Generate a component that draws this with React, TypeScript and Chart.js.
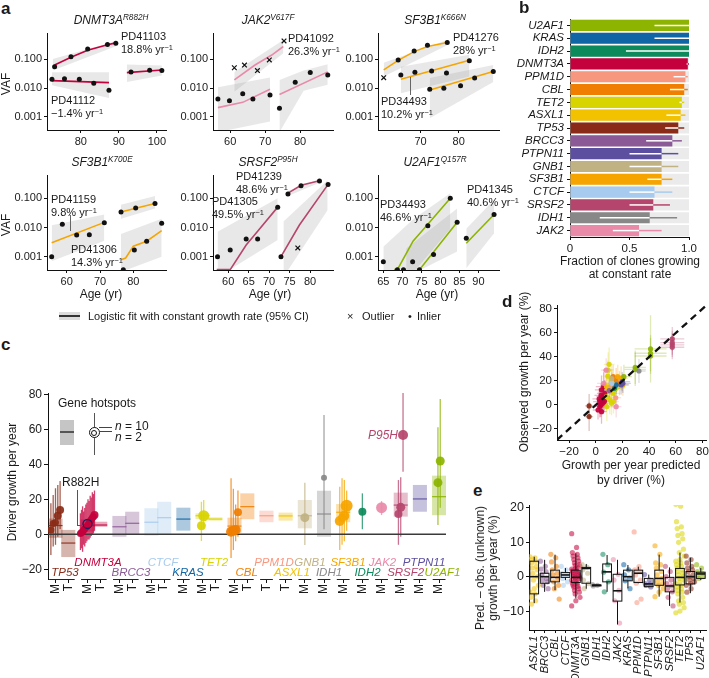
import React, { useEffect, useRef } from "react";
import { Chart, registerables } from "chart.js";

Chart.register(...registerables);

const FONT = "'Liberation Sans', Arial, Helvetica, sans-serif";
Chart.defaults.font.family = FONT;
Chart.defaults.color = "#1a1a1a";

const GENE_COLOR: Record<string, string> = {
  U2AF1: "#8cb400", KRAS: "#1065a5", IDH2: "#0d8a5b", DNMT3A: "#c4003d", PPM1D: "#f8977f",
  CBL: "#f07e00", TET2: "#d8d400", ASXL1: "#f2c100", TP53: "#8a2b17", BRCC3: "#8b5a96",
  PTPN11: "#5d4f9f", GNB1: "#c1b283", SF3B1: "#f6a500", CTCF: "#a6cbee", SRSF2: "#b6456d",
  IDH1: "#888888", JAK2: "#e98aa9",
};

// ---------------- Panel a data (age in years, VAF) ----------------
const vafTicks = [0.001, 0.01, 0.1];

// DNMT3A R882H
const a1XRange = [71.1, 102.4];
const a1Ticks = [80, 90, 100];
const a1InAge = [73.1, 77.4, 81.8, 87.0, 89.2, 72.4, 75.7, 79.6, 83.4, 87.4, 93.2, 98.1, 101.3];
const a1InVaf = [0.054, 0.12, 0.22, 0.32, 0.35, 0.02, 0.021, 0.02, 0.0145, 0.0083, 0.036, 0.041, 0.04];
const a1OutAge: number[] = [];
const a1OutVaf: number[] = [];
const a1FitAge = [[73.1, 77.4, 81.8, 87.0, 89.2], [72.4, 87.4], [92.1, 101.3]];
const a1FitVaf = [[0.062, 0.115, 0.2, 0.31, 0.36], [0.018, 0.0153], [0.034, 0.042]];
const a1BandAge = [[72.6, 89.4], [72.4, 87.4], [92.1, 101.3]];
const a1BandLo = [[0.04, 0.28], [0.0125, 0.0045], [0.016, 0.027]];
const a1BandHi = [[0.1, 0.42], [0.035, 0.035], [0.065, 0.06]];

// JAK2 V617F
const a2XRange = [55.1, 89.4];
const a2Ticks = [60, 70, 80];
const a2InAge = [56.5, 59.8, 63.6, 66.5, 71.4, 74.1, 78.6, 82.9, 87.9];
const a2InVaf = [0.0042, 0.0036, 0.0063, 0.0042, 0.0057, 0.002, 0.0158, 0.034, 0.028];
const a2OutAge = [61.2, 64.1, 67.8, 71.2, 75.4];
const a2OutVaf = [0.05, 0.062, 0.04, 0.093, 0.42];
const a2FitAge = [[61.2, 67.1, 71.9, 75.2], [56.5, 63.6, 71.4], [74.1, 87.9]];
const a2FitVaf = [[0.019, 0.062, 0.137, 0.27], [0.0021, 0.0032, 0.0091], [0.006, 0.036]];
const a2BandAge = [[61.2, 75.2], [56.5, 71.4], [74.1, 81, 87.9]];
const a2BandLo = [[0.0074, 0.157], [0.0003, 0.0007], [0.0003, 0.008, 0.013]];
const a2BandHi = [[0.036, 0.45], [0.0106, 0.023], [0.019, 0.04, 0.066]];

// SF3B1 K666N
const a3XRange = [58.8, 90.6];
const a3Ticks = [70, 80];
const a3InAge = [64.1, 68.3, 71.8, 77.0, 64.8, 68.5, 72.9, 76.8, 82.8, 72.4, 76.1, 80.5, 84.2, 89.1];
const a3InVaf = [0.092, 0.19, 0.3, 0.37, 0.028, 0.035, 0.039, 0.033, 0.087, 0.009, 0.0098, 0.012, 0.022, 0.037];
const a3OutAge = [60.3];
const a3OutVaf = [0.0227];
const a3FitAge = [[60.3, 64.1, 68.3, 71.8, 77.0], [64.8, 82.8], [72.4, 89.1]];
const a3FitVaf = [[0.042, 0.09, 0.18, 0.27, 0.37], [0.02, 0.09], [0.0085, 0.037]];
const a3BandAge = [[60.3, 77.0], [64.8, 82.8], [72.4, 89.1]];
const a3BandLo = [[0.025, 0.3], [0.0066, 0.025], [0.0009, 0.016]];
const a3BandHi = [[0.075, 0.45], [0.054, 0.14], [0.022, 0.062]];

// SF3B1 K700E
const b1XRange = [54.1, 89.8];
const b1Ticks = [60, 70, 80];
const b1InAge = [55.5, 58.7, 63.0, 66.8, 71.3, 76.3, 80.7, 86.5, 77.0, 80.3, 84.0, 88.5];
const b1InVaf = [0.001, 0.0129, 0.0055, 0.0057, 0.0146, 0.034, 0.047, 0.067, 0.00036, 0.0017, 0.0034, 0.0139];
const b1OutAge: number[] = [];
const b1OutVaf: number[] = [];
const b1FitAge = [[55.5, 71.3], [76.3, 80.7, 86.5], [76.3, 77.7, 80, 84, 88.5]];
const b1FitVaf = [[0.003, 0.015], [0.034, 0.046, 0.066], [0.00078, 0.0009, 0.0023, 0.0034, 0.0078]];
const b1BandAge = [[55.5, 71.3], [76.3, 86.5], [76.3, 88.5]];
const b1BandLo = [[0.0007, 0.0035], [0.02, 0.045], [0.0003, 0.001]];
const b1BandHi = [[0.012, 0.028], [0.06, 0.12], [0.006, 0.02]];

// SRSF2 P95H
const b2XRange = [56.3, 85.6];
const b2Ticks = [60, 65, 70, 75, 80];
const b2InAge = [57.4, 60.5, 64.4, 67.2, 72.1, 74.6, 77.8, 82.3, 84.4, 72.9];
const b2InVaf = [0.001, 0.0017, 0.004, 0.004, 0.049, 0.14, 0.27, 0.39, 0.3, 0.001];
const b2OutAge = [77.0];
const b2OutVaf = [0.002];
const b2FitAge = [[57.2, 60.5, 64.4, 67.2, 72.1], [74.6, 77.8, 82.3], [72.9, 77.4, 84.4]];
const b2FitVaf = [[0.00036, 0.00036, 0.0025, 0.0075, 0.05], [0.15, 0.28, 0.4], [0.001, 0.0122, 0.3]];
const b2BandAge = [[57.4, 72.1], [73.5, 84.3], [74.6, 82.3]];
const b2BandLo = [[0.0002, 0.0037], [0.0002, 0.04], [0.12, 0.34]];
const b2BandHi = [[0.0072, 0.1], [0.016, 0.42], [0.18, 0.46]];

// U2AF1 Q157R
const b3XRange = [63.6, 95.4];
const b3Ticks = [65, 70, 75, 80, 85, 90];
const b3InAge = [65.0, 68.7, 70.3, 72.7, 74.5, 76.7, 78.2, 82.6, 84.4, 86.8, 94.1];
const b3InVaf = [0.00067, 0.00036, 0.00036, 0.00067, 0.00036, 0.0115, 0.0012, 0.1, 0.0151, 0.0043, 0.028];
const b3OutAge: number[] = [];
const b3OutVaf: number[] = [];
const b3FitAge = [[67.8, 68.7, 72.8, 76.7, 82.6], [73.8, 74.5, 84.4], [86.8, 94.1]];
const b3FitVaf = [[0.00036, 0.00036, 0.0034, 0.013, 0.1], [0.00036, 0.00036, 0.0151], [0.0029, 0.028]];
const b3BandAge = [[65, 73, 82.6], [71, 84.4], [86.8, 94.1]];
const b3BandLo = [[0.0002, 0.0003, 0.009], [0.0002, 0.0015], [0.0004, 0.0063]];
const b3BandHi = [[0.0022, 0.02, 0.15], [0.0019, 0.045], [0.009, 0.09]];

// ---------------- Panel b data ----------------
const bGenes = ["U2AF1", "KRAS", "IDH2", "DNMT3A", "PPM1D", "CBL", "TET2", "ASXL1", "TP53", "BRCC3", "PTPN11", "GNB1", "SF3B1", "CTCF", "SRSF2", "IDH1", "JAK2"];
const bFrac = [1, 1, 1, 0.99, 0.97, 0.96, 0.94, 0.93, 0.91, 0.86, 0.77, 0.77, 0.77, 0.71, 0.7, 0.67, 0.58];
const bLo = [0.71, 0.71, 0.47, 0.98, 0.87, 0.84, 0.92, 0.81, 0.8, 0.64, 0.5, 0.5, 0.65, 0.5, 0.5, 0.25, 0.36];
const bHi = [1, 1, 1, 1, 0.99, 0.99, 0.96, 0.97, 0.96, 0.94, 0.91, 0.91, 0.86, 0.86, 0.84, 0.9, 0.77];
const bTicks = [0, 0.5, 1];

// ---------------- Panel c data ----------------
const cGenes = ["TP53", "DNMT3A", "BRCC3", "CTCF", "KRAS", "TET2", "CBL", "PPM1D", "ASXL1", "GNB1", "IDH1", "SF3B1", "IDH2", "JAK2", "SRSF2", "PTPN11", "U2AF1"];
const cKinds = ["MT", "MT", "MT", "MT", "M", "MT", "MT", "T", "T", "M", "M", "M", "M", "M", "M", "M", "M"];
// per slot (order: gene, then M/T)
const cBoxLo = [-2, -13, 1.5, 4.3, -1.4, 0.2, -0.8, 0.2, 2.1, 8.7, 7.8, 0.9, 8.6, 6.9, 7.8, 3.4, -1.4, 6.9, null, null, 10.1, 12.9, 10.9];
const cBoxHi = [9, 2.5, 8.5, 7.2, 10.5, 12.9, 14.9, 18.6, 15.2, 12, 9.7, 9.5, 23.4, 13.5, 12.4, 19.6, 24.9, 17.3, null, null, 23.8, 28.2, 33.5];
const cBoxMed = [5, -5, 5, 5.3, 4.3, 6.3, 6.9, 9.5, 8.7, 10.6, 8.7, 4.7, 15.8, 10.6, 10.5, 10.6, 11.6, 12.6, null, null, 16.7, 20.2, 21.5];
const cPtSlot = [0, 0, 0, 0, 0, 2, 2, 2, 2, 2, 2, 2, 2, 2, 2, 2, 2, 2, 2, 9, 9, 11, 11, 11, 11, 15, 16, 17, 17, 17, 17, 18, 19, 20, 20, 20, 22, 22];
const cPtVal = [2.5, 6.2, 6.8, 10.6, 13.9, 0.5, 1, 1.5, 2.5, 3, 4, 4.5, 5.5, 6.5, 7.5, 8.5, 9.5, 10, 11, 4.9, 10.6, 1.5, 2, 2.5, 12.6, 9.5, 32.3, 7.6, 9.5, 10.6, 16.3, 12.9, 15.2, 11.6, 15.4, 56.7, 29.5, 41.9];
const cPtLo = [-11.8, -7, -6, -1.4, 3, -9, -8, -10, -6, -7, -5, -4, -3, -3, -2, -1, 0, 0.5, 2, -3.8, 2.9, -13.6, -9, -4, -1.4, -6.1, 2.9, -9, -6, -4, 2, 2.9, 11, -6, -1.4, 35.8, 5.3, 15.2];
const cPtHi = [17.7, 22.5, 26.3, 28.2, 30.5, 12, 14, 16, 13, 15, 17, 18, 20, 19, 22, 21, 24, 23, 25, 18.6, 19.6, 32, 26, 17, 25, 29.5, 68.2, 27.2, 32, 31, 25, 23.4, 19, 31, 32.6, 80.9, 61.1, 77.3];
const cPtSize = [3.5, 3.5, 3.5, 4, 4, 3.5, 3.5, 3.5, 3.5, 3.5, 3.5, 3.5, 3.5, 3.5, 3.5, 3.5, 3.5, 3.5, 4, 4.5, 5.5, 5, 5, 5, 4, 4.5, 3, 5, 4, 5, 6, 4, 5.5, 4, 4.5, 5, 4.5, 4.5];
const cHotspotSlot = 2;
const cHotspotVal = [5.9];
const cYTicks = [-20, 0, 20, 40, 60, 80];

// ---------------- Panel d data ----------------
const dGene = ["TP53", "TP53",
  "DNMT3A", "DNMT3A", "DNMT3A", "DNMT3A", "DNMT3A", "DNMT3A", "DNMT3A", "DNMT3A", "DNMT3A", "DNMT3A", "DNMT3A", "DNMT3A", "DNMT3A", "DNMT3A",
  "TET2", "TET2", "TET2", "TET2", "TET2", "TET2", "TET2", "TET2", "TET2", "TET2", "TET2", "TET2", "TET2",
  "CBL", "CBL", "CBL", "SF3B1", "SF3B1", "SF3B1", "SF3B1", "ASXL1", "ASXL1", "ASXL1", "PPM1D", "PPM1D",
  "JAK2", "JAK2", "JAK2", "PTPN11", "PTPN11", "PTPN11", "IDH2", "KRAS", "CTCF",
  "U2AF1", "U2AF1", "U2AF1", "U2AF1", "U2AF1", "U2AF1", "IDH1", "SRSF2", "SRSF2", "SRSF2", "SRSF2", "GNB1", "BRCC3"];
const dPred = [-5, -5, 1.7, 3.8, 5.5, 4.3, 5.5, 3, 6.8, 5, 4.3, 6, 3, 2.5, 6.5, 4, 10.5, 9.3, 11.8, 10.5, 13, 8.3, 10, 11.8, 8, 13.3, 15.3, 9, 12, 15.3, 17.8, 13, 16.5, 19, 14, 20.3, 8, 10.5, 12, 11.5, 15, 7.8, 15.3, 6, 19, 19.8, 20.3, 14, 15.3, 12, 21.1, 29.6, 29.6, 41.1, 41.1, 41.1, 32.4, 57.4, 57.4, 57.4, 57.4, 12, 10];
const dObs = [-0.8, -9.7, -4.2, 0, 7, 12.5, 1.4, 2.8, 9.7, 4.2, -5.6, 15.3, -1.4, 5, 3, 8, 4.2, 29, 20.8, 15.3, 9.7, -1.4, 33.9, 1.4, 7, 2.8, 13.9, 24, 11, 20.8, 18, 23.6, 23.6, 22.2, 15.3, 16.7, 15.3, 11.1, 18, 16, 6, 29, -1.4, 18, 16.7, 19.4, 18, 13.9, 16.7, 18, 23.6, 29.7, 31.4, 46.7, 43.1, 40.8, 28.3, 55, 51.9, 50, 48.1, 22, 12];
const dPredErr = [3, 3, 4, 5, 5, 5, 4, 5, 6, 4, 4, 6, 5, 5, 4, 5, 4, 4, 4, 4, 5, 4, 4, 4, 4, 4, 5, 4, 4, 5, 5, 5, 5, 5, 5, 4, 4, 4, 4, 4, 4, 4, 4, 5, 6, 6, 6, 4, 4, 4, 6, 8, 8, 12, 12, 12, 5, 9, 9, 9, 9, 4, 4];
const dObsErr = [10, 12, 8, 10, 10, 12, 9, 9, 11, 10, 10, 12, 9, 9, 9, 10, 12, 15, 12, 12, 12, 12, 14, 10, 12, 10, 12, 13, 10, 10, 10, 10, 10, 10, 10, 9, 10, 9, 9, 9, 9, 10, 9, 12, 8, 8, 8, 8, 8, 9, 10, 14, 14, 28, 15, 15, 10, 10, 10, 10, 10, 8, 8];
const dTicks = [-20, 0, 20, 40, 60, 80];

// ---------------- Panel e data ----------------
const eGenes = ["ASXL1", "BRCC3", "CBL", "CTCF", "DNMT3A", "GNB1", "IDH1", "IDH2", "JAK2", "KRAS", "PPM1D", "PTPN11", "SF3B1", "SRSF2", "TET2", "TP53", "U2AF1"];
const eVals = [
  [5.8, 5.5, 5, 4.5, 4, 3, 2.5, 2, 1, 0, -1, -2.5, -3.5, -4.5, -5, -6, -7, -8],
  [4.5, 3, 2.2, 1.5, 0.5, -0.5, -1, -1.5, -2.5, -3.5],
  [6.5, 5.5, 4.3, 3, 2, 1, 0.5, -0.5, -1.5, -2.5, -3.5, -6.5],
  [3, 2, 1, 0.5, -0.5, -1.5, -2.5],
  [12.5, 8.5, 7, 6.5, 6, 5.5, 5, 4.5, 4, 3.5, 3.2, 3, 2.5, 2.2, 2, 1.7, 1.5, 1.2, 1, 0.7, 0.5, 0.2, 0, -0.3, -0.5, -0.8, -1, -1.5, -1.8, -2, -2.5, -2.8, -3, -3.5, -4, -4.5, -5, -6, -7, -8.5],
  [3.5, 2.8, 2, 1, -1, -2, -3.5],
  [-2.3, -2.5, -2.7],
  [6.5, 3.5, 1.3, -1.5, -4.4],
  [5, 0.7, -1, -4, -7, -13.5],
  [3.5, 2, 0.5, -0.5, -1.2, -3.5],
  [13, 2.9, 2, 1.5, 0.5, -1, -1.9, -6.5, -7.5],
  [0.6, -1, -2, -2.1, -2.5, -3],
  [9, 6.5, 4, 3.5, 2.5, 1.5, 0.5, -0.5, -1.5, -2, -2.5, -3.5, -4.5, -5.8],
  [3, 1.5, 0, -1, -2, -2.7, -3.5, -4.4, -6, -8.5],
  [21, 20.5, 16, 14.5, 14, 12.5, 12, 11, 10, 8, 7, 6, 5, 4.5, 4, 3.5, 3, 2.5, 2, 1.5, 1, 0.5, 0, -0.5, -1, -1.5, -2, -2.5, -3, -3.5, -4, -4.5, -5, -6, -7, -7.5, -8, -9, -10, -10.5],
  [6, 5, 4, 3, 2.5, 2, 1.5, 0.5, 0, -0.5, -1, -1.5, -2, -2.5, -3.5, -4.5],
  [3.5, 2.5, 1.5, 1, 0.5, 0, -0.5],
];
const eLow = [-7.7, -4.4, -3.9, -1, -6.3, -3.5, -2.7, -4.4, -13.9, -3.4, -1.9, -3.1, -5.8, -8.5, -7.5, -4.8, -1];
const eQ1 = [-5, -1.9, -1.5, -0.2, -1.7, -1.9, -2.6, -1.5, -7.1, -1.2, -1.7, -2.9, -2.5, -4.4, -2.4, -2.1, -0.5];
const eMed = [0, 0, -0.2, 0.5, -0.2, 2.4, -2.5, 1.4, -4.1, 0, 1, -2.1, -0.5, -2.7, -0.2, 0, 0.8];
const eQ3 = [4.5, 1, 1.9, 1.2, 1.9, 2.7, -2.4, 3.7, 0.7, 1.9, 1.9, -0.5, 1.9, -0.2, 2.4, 1.5, 1.3];
const eHigh = [5.8, 4.9, 6.4, 2.5, 6.8, 3.7, -2.3, 6.3, 4.9, 3.4, 2.9, 0.6, 6.4, 2.7, 7, 5.5, 2.5];
const eTicks = [-10, 0, 10, 20];

// ---------------- helpers ----------------
function rgba(hex: string, a: number) {
  const n = parseInt(hex.slice(1), 16);
  return `rgba(${(n >> 16) & 255},${(n >> 8) & 255},${n & 255},${a})`;
}
const minus = (v: number) => (v < 0 ? "\u2212" + Math.abs(v) : String(v));

const PAD = { l: 4, t: 10, r: 16, b: 4 };

function mkAxis(o: any) {
  return {
    type: o.type || "linear",
    min: o.min,
    max: o.max,
    afterBuildTicks: (s: any) => {
      s.ticks = o.values.map((v: number) => ({ value: v }));
    },
    afterFit: o.fit,
    border: { display: o.border !== false, color: "#111", width: 1 },
    grid: { display: true, drawOnChartArea: false, drawTicks: true, tickLength: o.tickLen ?? 3, color: "#111", lineWidth: 1, offset: false },
    ticks: {
      autoSkip: false,
      minRotation: o.rot || 0,
      maxRotation: o.rot || 0,
      padding: o.pad ?? 2,
      color: "#1a1a1a",
      font: { size: o.size || 11, style: o.italic ? "italic" : "normal", family: FONT },
      callback: (v: any, i: number) => o.fmt(Number(v), i),
    },
  };
}

function baseOptions(scales: any, extra: any = {}) {
  return {
    animation: false,
    responsive: false,
    maintainAspectRatio: false,
    events: [],
    layout: { padding: { left: PAD.l, top: PAD.t, right: PAD.r, bottom: PAD.b } },
    plugins: { legend: { display: false }, tooltip: { enabled: false }, title: { display: false } },
    scales,
    ...extra,
  };
}

function ChartBox({ area, yW, xH, make }: any) {
  const ref = useRef<HTMLCanvasElement | null>(null);
  const [x0, y0, x1, y1] = area;
  const left = x0 - yW - PAD.l;
  const top = y0 - PAD.t;
  const w = Math.round(x1 - x0 + yW + PAD.l + PAD.r);
  const h = Math.round(y1 - y0 + PAD.t + xH + PAD.b);
  useEffect(() => {
    const c = new Chart(ref.current as HTMLCanvasElement, make());
    return () => c.destroy();
  }, []);
  return <canvas ref={ref} width={w} height={h} style={{ position: "absolute", left, top, width: w, height: h }} />;
}

// ---------------- panel a ----------------
const ROW1 = { y0: 33, y1: 130, yMin: 0.000356, yMax: 0.79 };
const ROW2 = { y0: 175, y1: 270, yMin: 0.00035, yMax: 0.63 };
const COLS = [{ x0: 47, x1: 166 }, { x0: 213, x1: 333 }, { x0: 378, x1: 499 }];

function vafChart(p: any) {
  const ds: any[] = [];
  p.bandAge.forEach((xs: number[], i: number) => {
    ds.push({ data: xs.map((x, j) => ({ x, y: p.bandLo[i][j] })), showLine: true, borderWidth: 0, borderColor: "rgba(0,0,0,0)", pointRadius: 0, fill: false, order: 3 });
    ds.push({ data: xs.map((x, j) => ({ x, y: p.bandHi[i][j] })), showLine: true, borderWidth: 0, borderColor: "rgba(0,0,0,0)", pointRadius: 0, fill: "-1", backgroundColor: "rgba(140,140,140,0.2)", order: 3 });
  });
  p.fitAge.forEach((xs: number[], i: number) => {
    ds.push({ data: xs.map((x, j) => ({ x, y: p.fitVaf[i][j] })), showLine: true, borderColor: p.color, borderWidth: 1.6, pointRadius: 0, fill: false, order: 2 });
  });
  ds.push({ data: p.inAge.map((x: number, i: number) => ({ x, y: p.inVaf[i] })), showLine: false, pointRadius: 2.5, pointBackgroundColor: "#111", pointBorderWidth: 0, order: 1 });
  ds.push({ data: p.outAge.map((x: number, i: number) => ({ x, y: p.outVaf[i] })), showLine: false, pointStyle: "crossRot", pointRadius: 3.3, pointBorderColor: "#111", pointBorderWidth: 1.2, order: 1 });
  return {
    type: "line",
    data: { datasets: ds },
    options: baseOptions({
      x: mkAxis({ min: p.xr[0], max: p.xr[1], values: p.ticks, fmt: (v: number) => String(v), fit: (s: any) => { s.height = 18; } }),
      y: mkAxis({ type: "logarithmic", min: p.row.yMin, max: p.row.yMax, values: vafTicks, fmt: (v: number) => v.toFixed(3), fit: (s: any) => { s.width = 36; } }),
    }),
  };
}

// ---------------- panel b ----------------
const bErrPlugin = {
  id: "bErr",
  afterDatasetsDraw(chart: any) {
    const { ctx, scales } = chart;
    const x = scales.x, y = scales.y;
    ctx.save();
    ctx.lineWidth = 1.5;
    bGenes.forEach((g, i) => {
      const py = y.getPixelForValue(i);
      const f = bFrac[i], lo = bLo[i], hi = bHi[i];
      const whi = Math.min(hi, f);
      if (whi > lo) {
        ctx.strokeStyle = "#ffffff";
        ctx.beginPath(); ctx.moveTo(x.getPixelForValue(lo), py); ctx.lineTo(x.getPixelForValue(whi), py); ctx.stroke();
      }
      if (hi > f) {
        ctx.strokeStyle = GENE_COLOR[g];
        ctx.beginPath(); ctx.moveTo(x.getPixelForValue(Math.max(lo, f)), py); ctx.lineTo(x.getPixelForValue(hi), py); ctx.stroke();
      }
    });
    ctx.restore();
  },
};

function bChart() {
  return {
    type: "bar",
    data: {
      labels: bGenes,
      datasets: [
        { data: bGenes.map(() => 1), backgroundColor: "#ebebeb", grouped: false, order: 2, barPercentage: 0.87, categoryPercentage: 1 },
        { data: bFrac, backgroundColor: bGenes.map((g) => GENE_COLOR[g]), grouped: false, order: 1, barPercentage: 0.87, categoryPercentage: 1 },
      ],
    },
    options: baseOptions(
      {
        x: mkAxis({ min: 0, max: 1, values: bTicks, size: 11.5, fmt: (v: number) => (v === 0 ? "0" : v.toFixed(1)), fit: (s: any) => { s.height = 18; } }),
        y: {
          type: "category",
          afterFit: (s: any) => { s.width = 58; },
          border: { display: true, color: "#111", width: 1 },
          grid: { display: true, drawOnChartArea: false, drawTicks: true, tickLength: 3, color: "#111", offset: false },
          ticks: { autoSkip: false, padding: 3, color: "#1a1a1a", font: { size: 11.5, style: "italic", family: FONT } },
        },
      },
      { indexAxis: "y" }
    ),
    plugins: [bErrPlugin],
  };
}

// ---------------- panel c ----------------
const cSlots: { gene: string; kind: string; pos: number }[] = [];
(() => {
  let s = 0;
  cGenes.forEach((g, gi) => {
    for (const k of cKinds[gi]) {
      cSlots.push({ gene: g, kind: k, pos: s + 0.5 * gi });
      s++;
    }
  });
})();
const cPtX = cPtSlot.map((s, i) => {
  const same = cPtSlot.map((t, j) => (t === s ? j : -1)).filter((j) => j >= 0);
  const n = same.length;
  const k = same.indexOf(i);
  const step = n > 1 ? Math.min(0.18, 1.1 / (n - 1)) : 0;
  return cSlots[s].pos + (k - (n - 1) / 2) * step;
});
const C_X = [-0.586, 30.54];
const C_Y = [-25.54, 80.74];

const cPlugin = {
  id: "cMarks",
  beforeDatasetsDraw(chart: any) {
    const { ctx, chartArea: a, scales } = chart;
    const x = scales.x, y = scales.y;
    ctx.save();
    ctx.beginPath(); ctx.rect(a.left, a.top, a.right - a.left, a.bottom - a.top); ctx.clip();
    cSlots.forEach((s, i) => {
      const lo = cBoxLo[i], hi = cBoxHi[i], md = cBoxMed[i];
      if (lo === null || hi === null || md === null) return;
      const col = GENE_COLOR[s.gene];
      const xl = x.getPixelForValue(s.pos - 0.55), xr = x.getPixelForValue(s.pos + 0.55);
      const yt = y.getPixelForValue(hi), yb = y.getPixelForValue(lo);
      ctx.fillStyle = rgba(col, 0.35);
      ctx.fillRect(xl, yt, xr - xl, yb - yt);
      const ym = y.getPixelForValue(md);
      ctx.strokeStyle = rgba(col, 0.9); ctx.lineWidth = 1.2;
      ctx.beginPath(); ctx.moveTo(xl, ym); ctx.lineTo(xr, ym); ctx.stroke();
    });
    cPtVal.forEach((v, i) => {
      const col = GENE_COLOR[cSlots[cPtSlot[i]].gene];
      const px = x.getPixelForValue(cPtX[i]);
      ctx.strokeStyle = rgba(col, 0.75); ctx.lineWidth = 1.3;
      ctx.beginPath(); ctx.moveTo(px, y.getPixelForValue(cPtLo[i])); ctx.lineTo(px, y.getPixelForValue(cPtHi[i])); ctx.stroke();
    });
    ctx.restore();
  },
  afterDraw(chart: any) {
    const { ctx, chartArea: a, scales } = chart;
    const x = scales.x;
    ctx.save();
    ctx.strokeStyle = "#222"; ctx.lineWidth = 1;
    cGenes.forEach((g) => {
      const ss = cSlots.filter((s) => s.gene === g);
      const x1 = x.getPixelForValue(ss[0].pos - 0.5), x2 = x.getPixelForValue(ss[ss.length - 1].pos + 0.5);
      ctx.beginPath(); ctx.moveTo(x1, a.bottom + 0.5); ctx.lineTo(x2, a.bottom + 0.5); ctx.stroke();
    });
    ctx.restore();
  },
};

function cChart() {
  return {
    type: "line",
    data: {
      datasets: [
        { data: [{ x: C_X[0], y: 0 }, { x: C_X[1], y: 0 }], showLine: true, borderColor: "#3a3a3a", borderWidth: 1.5, pointRadius: 0, order: 3 },
        { data: cPtVal.map((v, i) => ({ x: cPtX[i], y: v })), showLine: false, pointRadius: cPtSize, pointBackgroundColor: cPtVal.map((_, i) => rgba(GENE_COLOR[cSlots[cPtSlot[i]].gene], 0.92)), pointBorderWidth: 0, order: 2 },
        { data: cHotspotVal.map((v) => ({ x: cSlots[cHotspotSlot].pos, y: v })), showLine: false, pointRadius: 4.5, pointBackgroundColor: "rgba(0,0,0,0)", pointBorderColor: "#1f1f5c", pointBorderWidth: 1.3, order: 1 },
      ],
    },
    options: baseOptions({
      x: mkAxis({ min: C_X[0], max: C_X[1], values: cSlots.map((s) => s.pos), fmt: (v: number, i: number) => cSlots[i].kind, rot: 90, size: 12, border: false, tickLen: 4, pad: 1, fit: (s: any) => { s.height = 20; } }),
      y: mkAxis({ min: C_Y[0], max: C_Y[1], values: cYTicks, fmt: minus, size: 12, tickLen: 4, fit: (s: any) => { s.width = 36; } }),
    }),
    plugins: [cPlugin],
  };
}

// ---------------- panel d ----------------
const D_X = [-29.1, 82.7];
const D_Y = [-29.2, 83.3];
const dPlugin = {
  id: "dErr",
  beforeDatasetsDraw(chart: any) {
    const { ctx, chartArea: a, scales } = chart;
    const x = scales.x, y = scales.y;
    ctx.save();
    ctx.beginPath(); ctx.rect(a.left, a.top, a.right - a.left, a.bottom - a.top); ctx.clip();
    ctx.lineWidth = 1.3;
    dPred.forEach((p, i) => {
      const o = dObs[i];
      ctx.strokeStyle = rgba(GENE_COLOR[dGene[i]], 0.28);
      ctx.beginPath();
      ctx.moveTo(x.getPixelForValue(p - dPredErr[i]), y.getPixelForValue(o)); ctx.lineTo(x.getPixelForValue(p + dPredErr[i]), y.getPixelForValue(o));
      ctx.moveTo(x.getPixelForValue(p), y.getPixelForValue(o - dObsErr[i])); ctx.lineTo(x.getPixelForValue(p), y.getPixelForValue(o + dObsErr[i]));
      ctx.stroke();
    });
    ctx.restore();
  },
};
function dChart() {
  return {
    type: "line",
    data: {
      datasets: [
        { data: [{ x: D_X[0], y: D_X[0] }, { x: D_X[1], y: D_X[1] }], showLine: true, borderColor: "#111", borderWidth: 2.3, borderDash: [7, 5], pointRadius: 0, order: 1 },
        { data: dPred.map((p, i) => ({ x: p, y: dObs[i] })), showLine: false, pointRadius: 2.6, pointBackgroundColor: dGene.map((g) => rgba(GENE_COLOR[g], 0.92)), pointBorderWidth: 0, order: 2 },
      ],
    },
    options: baseOptions({
      x: mkAxis({ min: D_X[0], max: D_X[1], values: dTicks, fmt: minus, size: 11.5, fit: (s: any) => { s.height = 18; } }),
      y: mkAxis({ min: D_Y[0], max: D_Y[1], values: dTicks, fmt: minus, size: 11.5, fit: (s: any) => { s.width = 32; } }),
    }),
    plugins: [dPlugin],
  };
}

// ---------------- panel e ----------------
const E_Y = [-15.5, 20.84];
const ePts: { x: number; y: number; c: string }[] = [];
eVals.forEach((vals, gi) =>
  vals.forEach((v, k) => ePts.push({ x: gi + (((k * 7) % 13) / 12 - 0.5) * 0.8, y: v, c: rgba(GENE_COLOR[eGenes[gi]], 0.55) }))
);
const ePlugin = {
  id: "eBox",
  afterDatasetsDraw(chart: any) {
    const { ctx, scales } = chart;
    const x = scales.x, y = scales.y;
    ctx.save();
    ctx.strokeStyle = "#111";
    eGenes.forEach((g, i) => {
      const xl = x.getPixelForValue(i - 0.42), xr = x.getPixelForValue(i + 0.42), xc = x.getPixelForValue(i);
      const y1 = y.getPixelForValue(eQ1[i]), y3 = y.getPixelForValue(eQ3[i]);
      ctx.lineWidth = 1;
      ctx.beginPath();
      ctx.moveTo(xc, y3); ctx.lineTo(xc, y.getPixelForValue(eHigh[i]));
      ctx.moveTo(xc, y1); ctx.lineTo(xc, y.getPixelForValue(eLow[i]));
      ctx.stroke();
      ctx.strokeRect(xl, y3, xr - xl, Math.max(y1 - y3, 1));
      ctx.lineWidth = 1.6;
      const ym = y.getPixelForValue(eMed[i]);
      ctx.beginPath(); ctx.moveTo(xl, ym); ctx.lineTo(xr, ym); ctx.stroke();
    });
    ctx.restore();
  },
};
function eChart() {
  return {
    type: "line",
    data: {
      datasets: [
        { data: ePts.map((p) => ({ x: p.x, y: p.y })), showLine: false, pointRadius: 2.6, pointBackgroundColor: ePts.map((p) => p.c), pointBorderWidth: 0 },
      ],
    },
    options: baseOptions({
      x: mkAxis({ min: -0.5, max: eGenes.length - 0.5, values: eGenes.map((_, i) => i), fmt: (v: number, i: number) => eGenes[i], rot: 90, italic: true, size: 11, pad: 3, fit: (s: any) => { s.height = 50; } }),
      y: mkAxis({ min: E_Y[0], max: E_Y[1], values: eTicks, fmt: minus, size: 12.5, fit: (s: any) => { s.width = 30; } }),
    }),
    plugins: [ePlugin],
  };
}

// ---------------- HTML text helpers ----------------
function T({ x, y, children, size = 11, italic = false, bold = false, color = "#1a1a1a", align = "l", rot = false, lh }: any) {
  const tx = align === "c" ? "-50%" : align === "r" ? "-100%" : "0";
  const transform = rot ? "translate(-50%,-50%) rotate(-90deg)" : `translate(${tx},-50%)`;
  return (
    <div
      style={{
        position: "absolute", left: x, top: y, transform, fontFamily: FONT, fontSize: size,
        fontStyle: italic ? "italic" : "normal", fontWeight: bold ? 700 : 400, color, whiteSpace: "nowrap",
        lineHeight: lh ? `${lh}px` : 1.15, textAlign: rot || align === "c" ? "center" : "left",
      }}
    >
      {children}
    </div>
  );
}
const Sup = ({ c }: any) => <span style={{ fontSize: "0.68em", position: "relative", top: "-0.45em" }}>{c}</span>;
function L({ x1, y1, x2, y2, c = "#444", w = 1 }: any) {
  const horiz = y1 === y2;
  return (
    <div
      style={{
        position: "absolute", background: c,
        left: horiz ? Math.min(x1, x2) : x1 - w / 2, top: horiz ? y1 - w / 2 : Math.min(y1, y2),
        width: horiz ? Math.abs(x2 - x1) : w, height: horiz ? w : Math.abs(y2 - y1),
      }}
    />
  );
}
function Rate({ x, y, id, rate }: any) {
  return (
    <T x={x} y={y} lh={13}>
      {id}
      <br />
      {rate}% yr<Sup c={"\u22121"} />
    </T>
  );
}

export default function App() {
  const A = (col: number, row: any) => [COLS[col].x0, row.y0, COLS[col].x1, row.y1];
  return (
    <div style={{ position: "absolute", left: 0, top: 0, width: 709, height: 678, overflow: "hidden", background: "#fff", fontFamily: FONT }}>
      <ChartBox area={A(0, ROW1)} yW={36} xH={18} make={() => vafChart({ color: GENE_COLOR.DNMT3A, xr: a1XRange, ticks: a1Ticks, row: ROW1, bandAge: a1BandAge, bandLo: a1BandLo, bandHi: a1BandHi, fitAge: a1FitAge, fitVaf: a1FitVaf, inAge: a1InAge, inVaf: a1InVaf, outAge: a1OutAge, outVaf: a1OutVaf })} />
      <ChartBox area={A(1, ROW1)} yW={36} xH={18} make={() => vafChart({ color: GENE_COLOR.JAK2, xr: a2XRange, ticks: a2Ticks, row: ROW1, bandAge: a2BandAge, bandLo: a2BandLo, bandHi: a2BandHi, fitAge: a2FitAge, fitVaf: a2FitVaf, inAge: a2InAge, inVaf: a2InVaf, outAge: a2OutAge, outVaf: a2OutVaf })} />
      <ChartBox area={A(2, ROW1)} yW={36} xH={18} make={() => vafChart({ color: GENE_COLOR.SF3B1, xr: a3XRange, ticks: a3Ticks, row: ROW1, bandAge: a3BandAge, bandLo: a3BandLo, bandHi: a3BandHi, fitAge: a3FitAge, fitVaf: a3FitVaf, inAge: a3InAge, inVaf: a3InVaf, outAge: a3OutAge, outVaf: a3OutVaf })} />
      <ChartBox area={A(0, ROW2)} yW={36} xH={18} make={() => vafChart({ color: GENE_COLOR.SF3B1, xr: b1XRange, ticks: b1Ticks, row: ROW2, bandAge: b1BandAge, bandLo: b1BandLo, bandHi: b1BandHi, fitAge: b1FitAge, fitVaf: b1FitVaf, inAge: b1InAge, inVaf: b1InVaf, outAge: b1OutAge, outVaf: b1OutVaf })} />
      <ChartBox area={A(1, ROW2)} yW={36} xH={18} make={() => vafChart({ color: GENE_COLOR.SRSF2, xr: b2XRange, ticks: b2Ticks, row: ROW2, bandAge: b2BandAge, bandLo: b2BandLo, bandHi: b2BandHi, fitAge: b2FitAge, fitVaf: b2FitVaf, inAge: b2InAge, inVaf: b2InVaf, outAge: b2OutAge, outVaf: b2OutVaf })} />
      <ChartBox area={A(2, ROW2)} yW={36} xH={18} make={() => vafChart({ color: GENE_COLOR.U2AF1, xr: b3XRange, ticks: b3Ticks, row: ROW2, bandAge: b3BandAge, bandLo: b3BandLo, bandHi: b3BandHi, fitAge: b3FitAge, fitVaf: b3FitVaf, inAge: b3InAge, inVaf: b3InVaf, outAge: b3OutAge, outVaf: b3OutVaf })} />

      <ChartBox area={[570, 18.6, 689, 236.4]} yW={58} xH={18} make={bChart} />
      <ChartBox area={[48.3, 393, 446.7, 579]} yW={36} xH={20} make={cChart} />
      <ChartBox area={[557.3, 305, 706, 440]} yW={32} xH={18} make={dChart} />
      <ChartBox area={[529.3, 505, 706.7, 630]} yW={30} xH={50} make={eChart} />

      {/* panel letters */}
      <T x={1} y={9} size={17} bold>a</T>
      <T x={519} y={8} size={17} bold>b</T>
      <T x={1} y={345} size={17} bold>c</T>
      <T x={502} y={302} size={17} bold>d</T>
      <T x={473} y={491} size={17} bold>e</T>

      {/* panel a titles */}
      <T x={111} y={21} size={12} italic align="c">DNMT3A<Sup c="R882H" /></T>
      <T x={268} y={21} size={12} italic align="c">JAK2<Sup c="V617F" /></T>
      <T x={435} y={21} size={12} italic align="c">SF3B1<Sup c="K666N" /></T>
      <T x={102} y={163} size={12} italic align="c">SF3B1<Sup c="K700E" /></T>
      <T x={268} y={163} size={12} italic align="c">SRSF2<Sup c="P95H" /></T>
      <T x={435} y={163} size={12} italic align="c">U2AF1<Sup c="Q157R" /></T>
      <T x={7} y={84} size={12} rot>VAF</T>
      <T x={7} y={225} size={12} rot>VAF</T>
      <T x={101} y={295} size={12} align="c">Age (yr)</T>
      <T x={270} y={295} size={12} align="c">Age (yr)</T>
      <T x={437} y={295} size={12} align="c">Age (yr)</T>

      {/* panel a annotations */}
      <Rate x={121} y={43} id="PD41103" rate="18.8" />
      <Rate x={51} y={107} id="PD41112" rate={"\u22121.4"} />
      <Rate x={288} y={45} id="PD41092" rate="26.3" />
      <Rate x={453} y={44} id="PD41276" rate="28" />
      <Rate x={381} y={108} id="PD34493" rate="10.2" />
      <L x1={410} y1={77} x2={410} y2={95} c="#666" />
      <Rate x={51} y={206} id="PD41159" rate="9.8" />
      <L x1={70} y1={215} x2={70} y2={231} c="#666" />
      <Rate x={71} y={256} id="PD41306" rate="14.3" />
      <Rate x={236} y={183} id="PD41239" rate="48.6" />
      <Rate x={212} y={208} id="PD41305" rate="49.5" />
      <Rate x={380} y={211} id="PD34493" rate="46.6" />
      <Rate x={467} y={196} id="PD41345" rate="40.6" />

      {/* panel a legend */}
      <div style={{ position: "absolute", left: 59, top: 312, width: 21, height: 8, background: "#dcdcdc" }} />
      <L x1={59} y1={316} x2={80} y2={316} c="#333" w={1.5} />
      <T x={88} y={316}>Logistic fit with constant growth rate (95% CI)</T>
      <T x={347} y={316}>{"\u00d7"}</T>
      <T x={362} y={316}>Outlier</T>
      <T x={408} y={316}>{"\u2022"}</T>
      <T x={417} y={316}>Inlier</T>

      {/* panel b axis title */}
      <T x={630} y={262} size={12} align="c">Fraction of clones growing</T>
      <T x={630} y={275} size={12} align="c">at constant rate</T>

      {/* panel c texts */}
      <T x={12.7} y={482} size={12} rot>Driver growth per year</T>
      <T x={58} y={404} size={12}>Gene hotspots</T>
      <div style={{ position: "absolute", left: 60, top: 420, width: 14, height: 25, background: "rgba(110,110,110,0.4)" }} />
      <L x1={60} y1={432} x2={74} y2={432} c="#555" w={1.2} />
      <L x1={94.3} y1={413} x2={94.3} y2={455} c="#555" w={1.2} />
      <div style={{ position: "absolute", left: 88.8, top: 427.2, width: 11, height: 11, boxSizing: "border-box", border: "1.4px solid #111", borderRadius: "50%", background: "#fff" }} />
      <div style={{ position: "absolute", left: 91.3, top: 429.7, width: 6, height: 6, boxSizing: "border-box", border: "1.2px solid #111", borderRadius: "50%" }} />
      <L x1={99} y1={427.5} x2={112} y2={427.5} c="#444" />
      <L x1={99} y1={431} x2={112} y2={431} c="#444" />
      <T x={115} y={427} size={12}><i>n</i> = 10</T>
      <T x={115} y={438} size={12}><i>n</i> = 2</T>
      <T x={62} y={483} size={12}>R882H</T>
      <L x1={77} y1={490} x2={77} y2={525} c="#555" />
      <L x1={77} y1={525} x2={83} y2={525} c="#555" />
      <T x={398} y={436} size={12} italic align="r" color={GENE_COLOR.SRSF2}>P95H</T>
      {[
        ["DNMT3A", 98, 562.7], ["CTCF", 163, 562.7], ["TET2", 214, 562.7], ["PPM1D", 274, 562.7], ["GNB1", 310, 562.7],
        ["SF3B1", 348, 562.7], ["JAK2", 382.5, 562.7], ["PTPN11", 424, 562.7],
        ["TP53", 65, 572.7], ["BRCC3", 131, 572.7], ["KRAS", 188, 572.7], ["CBL", 246.7, 572.7], ["ASXL1", 292, 572.7],
        ["IDH1", 329, 572.7], ["IDH2", 367.5, 572.7], ["SRSF2", 405.7, 572.7], ["U2AF1", 442.5, 572.7],
      ].map(([g, x, y]) => (
        <T key={g as string} x={x} y={y} size={11.5} italic align="c" color={GENE_COLOR[g as string]}>{g}</T>
      ))}

      {/* panel d texts */}
      <T x={525} y={372} size={12} rot>Observed growth per year (%)</T>
      <T x={631} y={466} size={12} align="c">Growth per year predicted</T>
      <T x={631} y={481} size={12} align="c">by driver (%)</T>

      {/* panel e texts */}
      <T x={487} y={568} size={12} rot lh={13}>Pred. {"\u2013"} obs. (unknown)<br />growth per year (%)</T>
    </div>
  );
}
